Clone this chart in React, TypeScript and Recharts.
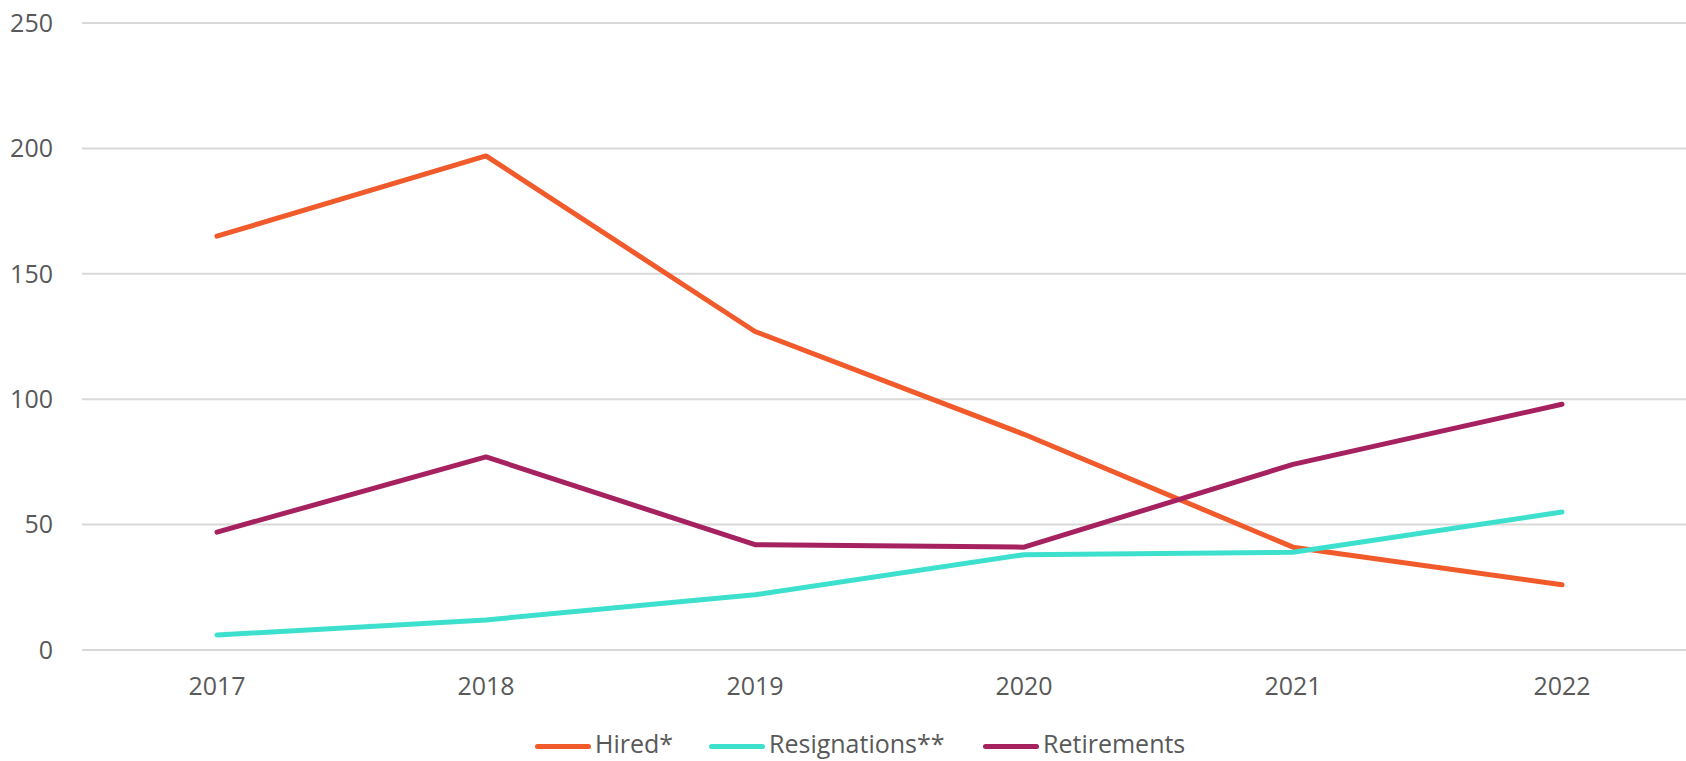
import React from "react";
import { LineChart, Line, XAxis, YAxis, CartesianGrid } from "recharts";

const years = ["2017", "2018", "2019", "2020", "2021", "2022"];
const hired = [165, 197, 127, 86, 41, 26];
const resignations = [6, 12, 22, 38, 39, 55];
const retirements = [47, 77, 42, 41, 74, 98];
const yTicks = [0, 50, 100, 150, 200, 250];

const seriesInfo = [
  { key: "hired", name: "Hired*", color: "#F15A2B", left: 535 },
  { key: "resignations", name: "Resignations**", color: "#3DE0CD", left: 709 },
  { key: "retirements", name: "Retirements", color: "#A6215F", left: 983 },
];

const data = years.map((y, i) => ({
  year: y,
  hired: hired[i],
  resignations: resignations[i],
  retirements: retirements[i],
}));

const FONT = "'Open Sans', sans-serif";
const TEXT = "#595959";

function LegendRow() {
  return (
    <>
      {seriesInfo.map((s) => (
        <div
          key={s.key}
          style={{
            position: "absolute",
            left: s.left,
            top: 726,
            display: "flex",
            alignItems: "center",
            fontFamily: FONT,
            fontSize: 25,
            color: TEXT,
            whiteSpace: "nowrap",
          }}
        >
          <div style={{ width: 56, height: 5, borderRadius: 3, background: s.color, marginRight: 4, marginTop: 7 }} />
          <span>{s.name}</span>
        </div>
      ))}
    </>
  );
}

export default function App() {
  return (
    <div style={{ position: "absolute", left: 0, top: 0, width: 1686, height: 761, background: "#fff", overflow: "hidden" }}>
      <LineChart width={1686} height={761} data={data} margin={{ top: 23, right: 0, left: 0, bottom: 81 }}>
        <CartesianGrid vertical={false} stroke="#D9D9D9" strokeWidth={2} />
        <XAxis
          dataKey="year"
          axisLine={false}
          tickLine={false}
          tickSize={0}
          tickMargin={27}
          height={30}
          padding={{ left: 135, right: 124 }}
          tick={{ fill: TEXT, fontSize: 25, fontFamily: FONT }}
        />
        <YAxis
          width={82}
          domain={[0, 250]}
          ticks={yTicks}
          axisLine={false}
          tickLine={false}
          tickSize={0}
          tickMargin={29}
          tick={{ fill: TEXT, fontSize: 25, fontFamily: FONT }}
        />
        {seriesInfo.map((s) => (
          <Line
            key={s.key}
            type="linear"
            dataKey={s.key}
            name={s.name}
            stroke={s.color}
            strokeWidth={5}
            strokeLinecap="round"
            strokeLinejoin="round"
            dot={false}
            activeDot={false}
            isAnimationActive={false}
          />
        ))}
      </LineChart>
      <LegendRow />
    </div>
  );
}
